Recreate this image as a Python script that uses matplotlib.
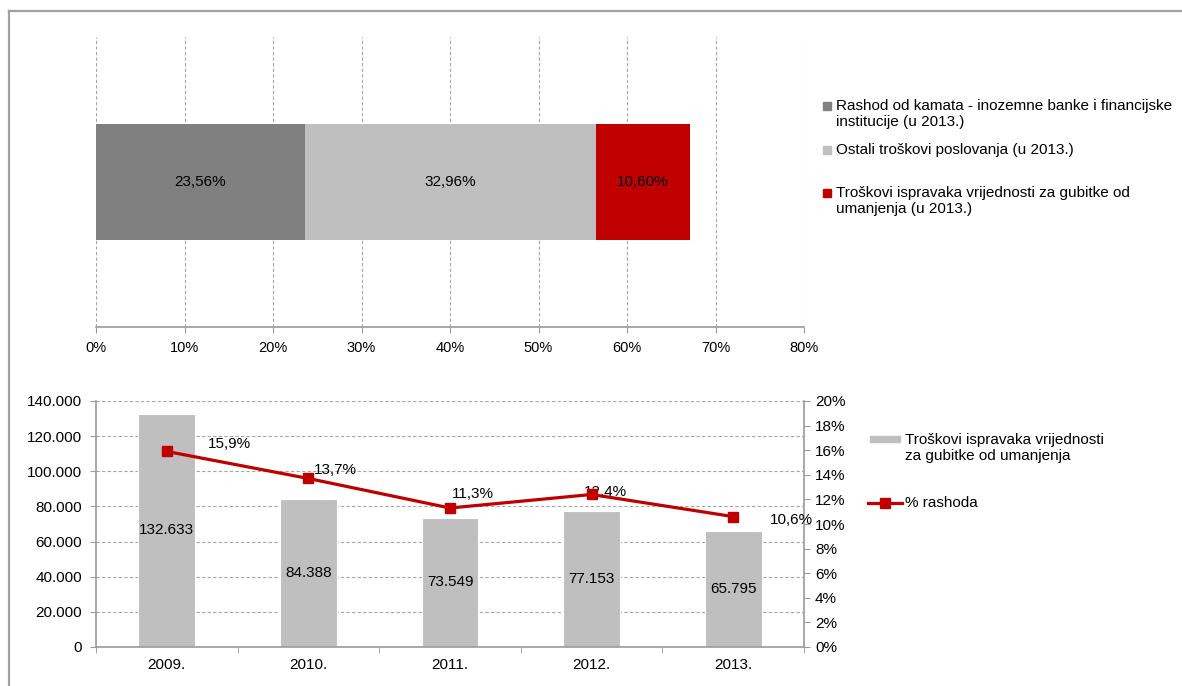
import matplotlib
matplotlib.use("Agg")
from matplotlib import pyplot as plt
from matplotlib.lines import Line2D
from matplotlib.patches import Rectangle
from matplotlib.ticker import FuncFormatter, MultipleLocator
import numpy as np

plt.rcParams["font.family"] = ["Liberation Sans", "DejaVu Sans"]
plt.rcParams["font.size"] = 10.5

# top chart: structure of expenses in 2013
share_labels = [
    "Rashod od kamata - inozemne banke i financijske\ninstitucije (u 2013.)",
    "Ostali troškovi poslovanja (u 2013.)",
    "Troškovi ispravaka vrijednosti za gubitke od\numanjenja (u 2013.)",
]
share_values = [23.56, 32.96, 10.60]
share_colors = ["#808080", "#BFBFBF", "#C00000"]

# bottom chart: impairment costs and share of expenses
years = ["2009.", "2010.", "2011.", "2012.", "2013."]
impairment = [132633, 84388, 73549, 77153, 65795]
pct_expenses = [15.9, 13.7, 11.3, 12.4, 10.6]
bar_label = "Troškovi ispravaka vrijednosti\nza gubitke od umanjenja"
line_label = "% rashoda"
# label offsets in pixels, as placed in the original
pct_label_offsets = [(63, 7), (27, 8), (23, 14), (14, 2), (58, -3)]

AXIS_GREY = "#9A9A9A"
GRID_GREY = "#A6A6A6"
RED = "#C00000"

W, H = 1182, 686
fig = plt.figure(figsize=(W / 100, H / 100), dpi=100)


def fx(px):
    return px / W


def fy(py):
    return 1 - py / H


def thousands(v, pos=None):
    return f"{int(round(v)):,}".replace(",", ".")


# frame around the whole thing
fig.add_artist(Line2D([fx(9), 1.0], [fy(11), fy(11)], transform=fig.transFigure,
                      color="#A0A0A0", lw=1.6))
fig.add_artist(Line2D([fx(9), fx(9)], [fy(11), 0.0], transform=fig.transFigure,
                      color="#A0A0A0", lw=1.6))

# ---- top chart
ax1 = fig.add_axes([fx(96), fy(327), fx(804) - fx(96), fy(37) - fy(327)])
left = 0.0
for val, col in zip(share_values, share_colors):
    ax1.barh(0, val, left=left, height=0.4, color=col, edgecolor="none", zorder=2)
    ax1.text(left + val / 2, 0, f"{val:.2f}%".replace(".", ","), ha="center",
             va="center", fontsize=11, color="black", zorder=3)
    left += val
ax1.set_xlim(0, 80)
ax1.set_ylim(-0.5, 0.5)
ax1.xaxis.set_major_locator(MultipleLocator(10))
ax1.xaxis.set_major_formatter(FuncFormatter(lambda v, p: f"{v:.0f}%"))
ax1.set_yticks([])
for s in ["top", "right", "left"]:
    ax1.spines[s].set_visible(False)
ax1.spines["bottom"].set_color(AXIS_GREY)
ax1.spines["bottom"].set_linewidth(1.2)
ax1.tick_params(axis="x", direction="out", length=4, color=AXIS_GREY,
                labelsize=10.5, pad=6)
ax1.grid(axis="x", color=GRID_GREY, linestyle=(0, (3, 2)), lw=0.8, zorder=0)

# legend of the top chart, entries placed like the original
legend1_y = [114, 150, 201]
for label, col, ly in zip(share_labels, share_colors, legend1_y):
    first_line_y = ly - 8 if "\n" in label else ly
    fig.add_artist(Rectangle((fx(823), fy(first_line_y + 4)), fx(8), 8 / H,
                             transform=fig.transFigure, color=col))
    fig.text(fx(836), fy(ly), label, ha="left", va="center", fontsize=11,
             linespacing=1.15)

# ---- bottom chart
ax2 = fig.add_axes([fx(96), fy(647), fx(804) - fx(96), fy(401) - fy(647)])
x = np.arange(len(years))
ax2.bar(x, impairment, width=0.4, color="#BFBFBF", edgecolor="white",
        lw=0.8, zorder=2)
for xi, v in zip(x, impairment):
    ax2.text(xi, v / 2, thousands(v), ha="center", va="center", fontsize=11, zorder=3)
ax2.set_xlim(-0.5, len(years) - 0.5)
ax2.set_ylim(0, 140000)
ax2.yaxis.set_major_locator(MultipleLocator(20000))
ax2.yaxis.set_major_formatter(FuncFormatter(thousands))
ax2.set_xticks(x)
ax2.set_xticklabels(years)
ax2.set_xticks(np.arange(-0.5, len(years)), minor=True)
ax2.tick_params(axis="x", which="major", length=0, pad=8, labelsize=11)
ax2.tick_params(axis="x", which="minor", length=4, color=AXIS_GREY, direction="out")
ax2.tick_params(axis="y", length=4, color=AXIS_GREY, direction="out",
                labelsize=11, pad=6)
ax2.grid(axis="y", color=GRID_GREY, linestyle=(0, (3, 2)), lw=0.8, zorder=0)
ax2.spines["top"].set_visible(False)
ax2.spines["right"].set_visible(False)
for s in ["left", "bottom"]:
    ax2.spines[s].set_color(AXIS_GREY)
    ax2.spines[s].set_linewidth(1.2)

ax3 = ax2.twinx()
ax3.plot(x, pct_expenses, color=RED, lw=2.3, marker="s", markersize=7, zorder=4)
for xi, v, (dx, dy) in zip(x, pct_expenses, pct_label_offsets):
    ax3.annotate(f"{v:.1f}%".replace(".", ","), (xi, v), xytext=(dx, dy),
                 textcoords="offset pixels", ha="center", va="center", fontsize=11)
ax3.set_ylim(0, 20)
ax3.yaxis.set_major_locator(MultipleLocator(2))
ax3.yaxis.set_major_formatter(FuncFormatter(lambda v, p: f"{v:.0f}%"))
ax3.tick_params(axis="y", length=4, color=AXIS_GREY, direction="out",
                labelsize=11, pad=4)
for s in ["top", "left", "bottom"]:
    ax3.spines[s].set_visible(False)
ax3.spines["right"].set_color(AXIS_GREY)
ax3.spines["right"].set_linewidth(1.2)

# legend of the bottom chart
fig.add_artist(Rectangle((fx(870), fy(442)), fx(30), 6 / H,
                         transform=fig.transFigure, color="#BFBFBF"))
fig.text(fx(905), fy(448), bar_label, ha="left", va="center", fontsize=11,
         linespacing=1.1)
fig.add_artist(Line2D([fx(868), fx(902)], [fy(503), fy(503)],
                      transform=fig.transFigure, color=RED, lw=2.3))
fig.add_artist(Line2D([fx(885)], [fy(503)], transform=fig.transFigure,
                      color=RED, marker="s", markersize=7, ls="none"))
fig.text(fx(905), fy(503), line_label, ha="left", va="center", fontsize=11)

fig.savefig("out.png", dpi=100)
